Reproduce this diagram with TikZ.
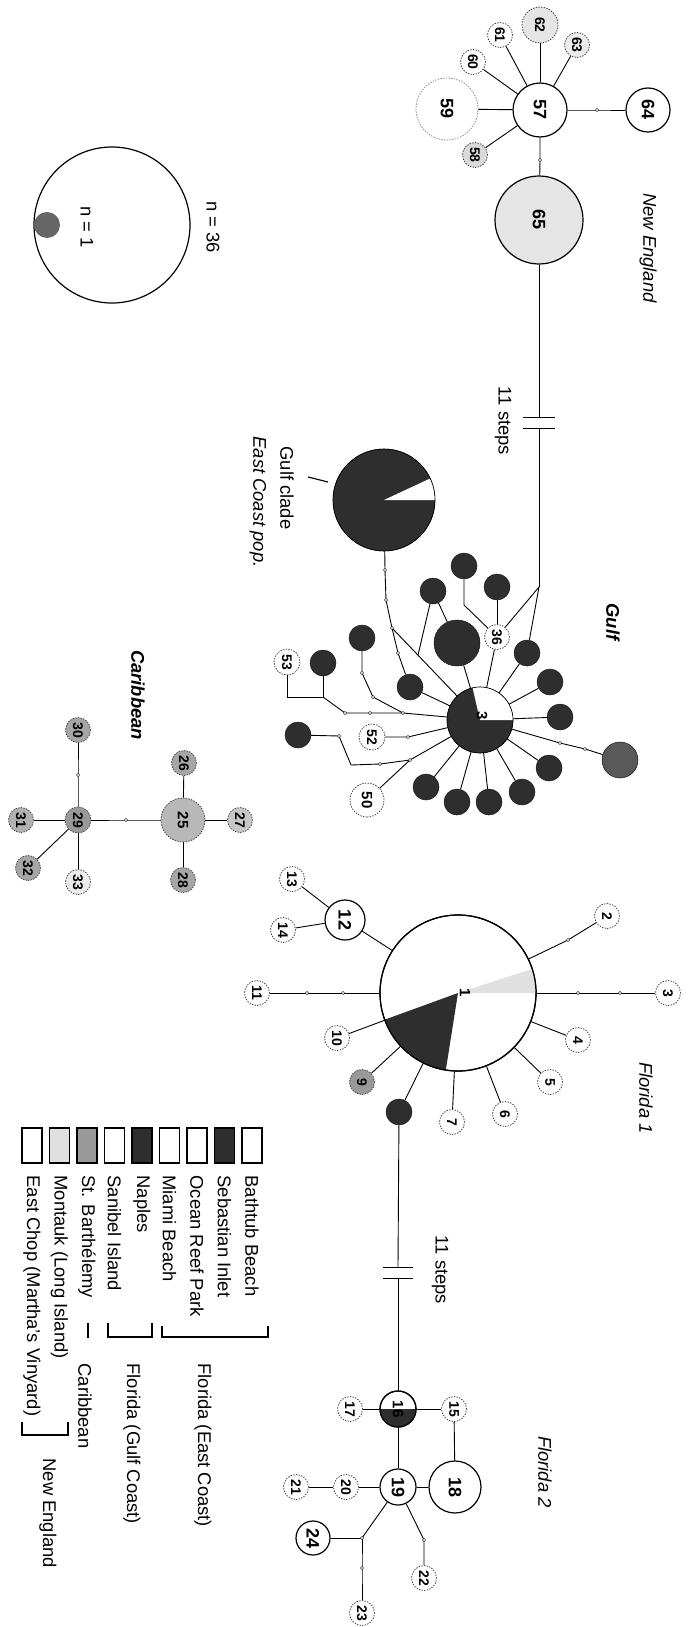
\documentclass[tikz,border=0pt]{standalone}
\usepackage{fontspec}
\setmainfont{Liberation Sans}
\newcommand{\numS}{\fontsize{14}{16}\selectfont\bfseries}
\newcommand{\numM}{\fontsize{15}{18}\selectfont\bfseries}
\newcommand{\numL}{\fontsize{18}{21}\selectfont\bfseries}
\newcommand{\lblf}{\fontsize{18.4}{22}\selectfont}
\newcommand{\mdot}[2]{\coordinate (#1) at (#2);}
\tikzset{
  edge/.style={line width=0.9pt, draw=black},
  hap/.style={circle, inner sep=0pt, rotate=-90, font=\numS},
  solidhap/.style={hap, draw=black, line width=1.2pt, fill=white},
  dashhap/.style={hap, draw=black!75, line width=0.8pt, dash pattern=on 1.4pt off 1.3pt, fill=white, minimum size=25pt},
  darkhap/.style={hap, draw=black!90, line width=0.5pt, fill=black!82, minimum size=26pt},
  lbl/.style={rotate=-90, font=\lblf},
  regionlbl/.style={rotate=-90, font=\lblf\itshape},
  boldregion/.style={rotate=-90, font=\lblf\bfseries\itshape},
  legbox/.style={draw=black, line width=1.8pt, minimum width=20pt, minimum height=35pt, inner sep=0pt},
  gapmark/.style={line width=1pt},
  brk/.style={line width=1.3pt},
}
\begin{document}
\begin{tikzpicture}[x=1pt,y=-1pt]
\fill[white] (0,0) rectangle (692,1627);
\useasboundingbox (0,0) rectangle (692,1627);

% ---------------- legend circles
\node[circle, draw, line width=1.2pt, minimum size=156pt, inner sep=0pt] (leg36) at (112,225) {};
\node[circle, fill=black!60, minimum size=26pt, inner sep=0pt] (leg1) at (47,225) {};
\node[lbl] (tn1) at (87,227) {n = 1};
\node[lbl] (tn36) at (213,227) {n = 36};

% ---------------- New England
\node[solidhap, minimum size=54pt, font=\numL] (n57) at (540,110) {57};
\node[solidhap, minimum size=44pt, font=\numL] (n64) at (648,110) {64};
\node[dashhap, minimum size=62pt, font=\numL, draw=black!45] (n59) at (447,109) {59};
\node[solidhap, minimum size=88pt, font=\numL, fill=black!10] (n65) at (539,220) {65};
\node[dashhap, minimum size=36pt, fill=black!10] (n62) at (540,25) {62};
\node[dashhap] (n61) at (500,35) {61};
\node[dashhap] (n60) at (473,62) {60};
\node[dashhap, fill=black!8] (n63) at (577,45) {63};
\node[dashhap, fill=black!15] (n58) at (475,155) {58};
\node[regionlbl] (lNE) at (648,248) {New England};

\mdot{m1}{597,110}
\mdot{m2}{540,160}
\draw[edge] (n57) -- (m1) -- (n64);
\draw[edge] (n57) -- (m2) -- (n65);
\foreach \t in {n59,n58,n60,n61,n62,n63} \draw[edge] (n57) -- (\t);

\coordinate (ga1) at (539,417);
\coordinate (ga2) at (539,428);
\coordinate (G0) at (539,587);
\draw[edge] (n65) -- (ga1);
\draw[edge] (ga2) -- (G0);
\draw[gapmark] (ga1) ++(-16,0) -- ++(32,0);
\draw[gapmark] (ga2) ++(-16,0) -- ++(32,0);
\node[lbl] (st1) at (503,421) {11 steps};

% ---------------- Gulf
\node[darkhap, minimum size=102pt] (gGC) at (384,500) {};
\fill[white] (gGC.center) -- ++(-25:51) arc[start angle=-25, end angle=0, radius=51] -- cycle;
\draw[line width=0.6pt] (gGC.center) circle[radius=51];
\draw[line width=1.2pt] (308,477) -- (328,482);
\node[lbl, anchor=west] (lgc1) at (287,443) {Gulf clade};
\node[lbl, anchor=west, font=\lblf\itshape] (lgc2) at (258,433) {East Coast pop.};

\node[darkhap, minimum size=66pt] (g3) at (480,720) {};
\fill[white] (g3.center) -- ++(-103:33) arc[start angle=-103, end angle=0, radius=33] -- cycle;
\draw[line width=0.6pt] (g3.center) circle[radius=33];
\node[rotate=-90, font=\numM] (g3t) at (482,716) {3};

\node[darkhap] (gA) at (527,653) {};
\node[darkhap] (gB) at (550,682) {};
\node[darkhap] (gC) at (560,717) {};
\node[darkhap, minimum size=36pt, fill=black!65] (gD) at (620,760) {};
\node[darkhap] (gE) at (549,768) {};
\node[darkhap] (gF) at (522,792) {};
\node[darkhap] (gG) at (489,802) {};
\node[darkhap] (gH) at (457,802) {};
\node[darkhap] (gI) at (426,787) {};
\node[darkhap] (gJ) at (298,735) {};
\node[darkhap] (gK) at (323,663) {};
\node[darkhap] (gL) at (362,638) {};
\node[darkhap] (gM) at (410,687) {};
\node[darkhap, minimum size=46pt] (gN) at (457,643) {};
\node[darkhap] (gO) at (464,566) {};
\node[darkhap] (gP) at (497,587) {};
\node[darkhap] (gQ) at (433,591) {};
\node[dashhap] (n36) at (497,637) {36};
\node[dashhap, minimum size=34pt, font=\numM] (n50) at (367,800) {50};
\node[dashhap, minimum size=26pt] (n52) at (372,737) {52};
\node[dashhap, minimum size=26pt] (n53) at (287,662) {53};
\node[boldregion] (lG) at (613,622) {Gulf};

\mdot{m5}{385,570}
\mdot{m6}{386,600}
\mdot{jGC}{392,628}
\mdot{m7}{398,653}
\mdot{jQ}{418,655}
\mdot{m8}{362,673}
\mdot{m9}{373,697}
\mdot{j53}{287,697}
\mdot{jK2}{323,697}
\mdot{m10}{345,713}
\mdot{m11}{370,713}
\mdot{jK}{403,713}
\mdot{m12}{408,737}
\mdot{m13}{339,736}
\coordinate (jJ) at (351,765);
\mdot{m14}{380,764}
\mdot{J50}{410,760}
\mdot{m15}{560,743}
\mdot{m16}{585,749}
\coordinate (b36) at (464,605);

\foreach \t in {gA,gB,gC,gE,gF,gG,gH,gI,gN,n36,gM} \draw[edge] (g3) -- (\t);
\draw[edge] (g3) -- (m15) -- (m16) -- (gD);
\draw[edge] (gA) -- (G0);
\draw[edge] (n36) -- (G0);
\draw[edge] (n36) -- (gP);
\draw[edge] (n36) -- (b36) -- (gO);
\draw[edge] (gQ) -- (gN);
\draw[edge] (gGC) -- (m5) -- (m6) -- (jGC) -- (g3);
\draw[edge] (jGC) -- (m7) -- (gM);
\draw[edge] (gQ) -- (jQ);
\draw[edge] (gL) -- (m8) -- (m9) -- (jK);
\draw[edge] (n53) -- (j53) -- (jK2);
\draw[edge] (gK) -- (jK2);
\draw[edge] (jK2) -- (m10) -- (m11) -- (jK) -- (g3);
\draw[edge] (n52) -- (m12) -- (g3);
\draw[edge] (n50) -- (J50) -- (g3);
\draw[edge] (gJ) -- (m13) -- (jJ) -- (m14) -- (J50);

% ---------------- Caribbean
\node[dashhap, minimum size=44pt, fill=black!28, font=\numM] (n25) at (183,820) {25};
\node[dashhap, fill=black!35] (n26) at (184,763) {26};
\node[dashhap, fill=black!35] (n28) at (183,880) {28};
\node[dashhap, fill=black!22] (n27) at (240,820) {27};
\node[dashhap, fill=black!40, minimum size=26pt] (n29) at (78,820) {29};
\node[dashhap, fill=black!35] (n30) at (78,730) {30};
\node[dashhap, fill=black!30] (n31) at (21,820) {31};
\node[dashhap, fill=black!35] (n32) at (28,868) {32};
\node[dashhap, fill=black!8] (n33) at (78,882) {33};
\node[boldregion] (lC) at (138,695) {Caribbean};
\mdot{m3}{126,820}
\mdot{m4}{78,775}
\draw[edge] (n25) -- (n26);
\draw[edge] (n25) -- (n27);
\draw[edge] (n25) -- (n28);
\draw[edge] (n25) -- (m3) -- (n29);
\draw[edge] (n29) -- (m4) -- (n30);
\draw[edge] (n29) -- (n31);
\draw[edge] (n29) -- (n32);
\draw[edge] (n29) -- (n33);

% ---------------- Florida 1
\node[solidhap, minimum size=156pt] (n1) at (458,993) {};
\fill[black!12] (n1.center) -- ++(-18:78) arc[start angle=-18, end angle=0, radius=78] -- cycle;
\fill[black!82] (n1.center) -- ++(-261:78) arc[start angle=-261, end angle=-200, radius=78] -- cycle;
\draw[line width=1.2pt] (n1.center) circle[radius=78];
\node[rotate=-90, font=\numM] (n1t) at (465,993) {1};
\node[dashhap] (f2) at (607,916) {2};
\node[dashhap] (f3) at (668,993) {3};
\node[dashhap] (f4) at (578,1040) {4};
\node[dashhap] (f5) at (550,1082) {5};
\node[dashhap] (f6) at (505,1114) {6};
\node[dashhap] (f7) at (452,1122) {7};
\node[darkhap] (fD) at (399,1112) {};
\node[dashhap, fill=black!40] (f9) at (362,1082) {9};
\node[dashhap] (f10) at (337,1038) {10};
\node[dashhap] (f11) at (257,993) {11};
\node[solidhap, minimum size=40pt, font=\numL] (f12) at (345,920) {12};
\node[dashhap] (f13) at (292,879) {13};
\node[dashhap] (f14) at (283,930) {14};
\node[regionlbl] (lF1) at (646,1098) {Florida 1};
\mdot{m17}{568,940}
\mdot{m18}{578,993}
\mdot{m19}{620,993}
\mdot{m20}{307,993}
\mdot{m21}{343,993}
\draw[edge] (n1) -- (m17) -- (f2);
\draw[edge] (n1) -- (m18) -- (m19) -- (f3);
\draw[edge] (n1) -- (m21) -- (m20) -- (f11);
\foreach \t in {f4,f5,f6,f7,fD,f9,f10,f12} \draw[edge] (n1) -- (\t);
\draw[edge] (f12) -- (f13);
\draw[edge] (f12) -- (f14);

\coordinate (gb1) at (398,1267);
\coordinate (gb2) at (398,1278);
\draw[gapmark] (gb1) ++(-15,0) -- ++(30,0);
\draw[gapmark] (gb2) ++(-15,0) -- ++(30,0);
\node[lbl] (st2) at (440,1270) {11 steps};

% ---------------- Florida 2
\node[solidhap, minimum size=36pt] (f16) at (398,1409) {};
\fill[black!82] (f16.center) -- ++(0:18) arc[start angle=0, end angle=180, radius=18] -- cycle;
\draw[line width=1.2pt] (f16.center) circle[radius=18];
\node[rotate=-90, font=\numM] (f16t) at (398,1409) {16};
\draw[edge] (fD) -- (gb1);
\draw[edge] (gb2) -- (f16);
\node[dashhap] (f17) at (350,1409) {17};
\node[dashhap] (f15) at (454,1409) {15};
\node[solidhap, minimum size=52pt, font=\numL] (f18) at (455,1487) {18};
\node[solidhap, minimum size=36pt, font=\numL] (f19) at (398,1487) {19};
\node[dashhap] (f20) at (346,1487) {20};
\node[dashhap] (f21) at (296,1487) {21};
\node[solidhap, minimum size=34pt, font=\numL] (f24) at (313,1538) {24};
\node[dashhap] (f22) at (424,1578) {22};
\node[dashhap] (f23) at (362,1613) {23};
\node[regionlbl] (lF2) at (545,1472) {Florida 2};
\mdot{j24}{362,1538}
\mdot{j22}{424,1540}
\mdot{m22}{362,1568}
\draw[edge] (f16) -- (f17);
\draw[edge] (f16) -- (f15);
\draw[edge] (f16) -- (f19);
\draw[edge] (f15) -- (f18);
\draw[edge] (f19) -- (f18);
\draw[edge] (f19) -- (f20);
\draw[edge] (f20) -- (f21);
\draw[edge] (f19) -- (j24);
\draw[edge] (f24) -- (j24) -- (m22) -- (f23);
\draw[edge] (f19) -- (j22) -- (f22);

% mutation dots
\foreach \d in {m1,m2,m3,m4,m5,m6,jGC,m7,m8,m9,m10,m11,jK,m12,m13,m14,J50,m15,m16,m17,m18,m19,m20,m21,m22,j24,j22}
  \filldraw[fill=white, draw=black, line width=0.4pt] (\d) circle[radius=1.6];

% ---------------- Legend
\node[legbox, fill=white] (b1) at (252,1145.5) {};
\node[legbox, fill=black!82] (b2) at (224.5,1145.5) {};
\node[legbox, fill=white] (b3) at (197,1145.5) {};
\node[legbox, fill=white] (b4) at (169.5,1145.5) {};
\node[legbox, fill=black!82] (b5) at (142,1145.5) {};
\node[legbox, fill=white] (b6) at (114.5,1145.5) {};
\node[legbox, fill=black!40] (b7) at (87,1145.5) {};
\node[legbox, fill=black!12] (b8) at (59.5,1145.5) {};
\node[legbox, fill=white] (b9) at (32,1145.5) {};
\node[lbl, anchor=west] (t1) at (252,1172) {Bathtub Beach};
\node[lbl, anchor=west] (t2) at (224.5,1172) {Sebastian Inlet};
\node[lbl, anchor=west] (t3) at (197,1172) {Ocean Reef Park};
\node[lbl, anchor=west] (t4) at (169.5,1172) {Miami Beach};
\node[lbl, anchor=west] (t5) at (142,1172) {Naples};
\node[lbl, anchor=west] (t6) at (114.5,1172) {Sanibel Island};
\node[lbl, anchor=west] (t7) at (87,1172) {St. Barthélemy};
\node[lbl, anchor=west] (t8) at (59.5,1172) {Montauk (Long Island)};
\node[lbl, anchor=west] (t9) at (32,1172) {East Chop (Martha's Vinyard)};
\draw[brk] (162,1326) -- (162,1337) -- (268,1337) -- (268,1326);
\draw[brk] (108,1323) -- (108,1337) -- (152,1337) -- (152,1323);
\draw[brk] (88,1323) -- (88,1338);
\draw[brk] (22,1422) -- (22,1435) -- (68,1435) -- (68,1422);
\node[lbl, anchor=west] (tb1) at (203,1360) {Florida (East Coast)};
\node[lbl, anchor=west] (tb2) at (132,1360) {Florida (Gulf Coast)};
\node[lbl, anchor=west] (tb3) at (85,1360) {Caribbean};
\node[lbl, anchor=west] (tb4) at (48,1455) {New England};
\end{tikzpicture}
\end{document}
